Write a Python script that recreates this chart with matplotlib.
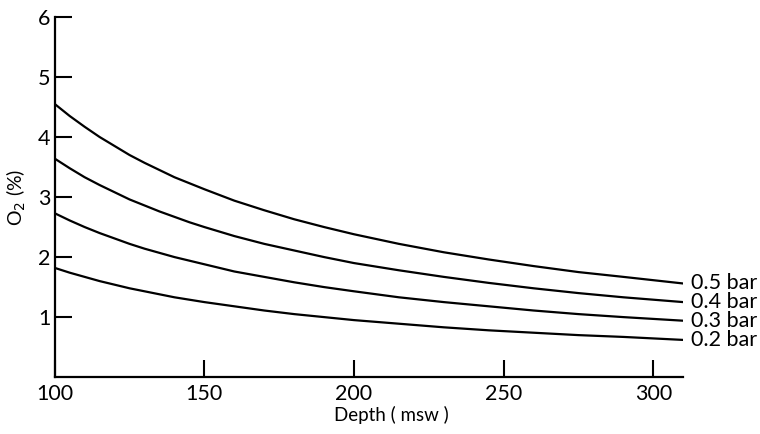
import matplotlib.pyplot as plt

# depth (msw) and O2 fraction (%)
depth = [100, 105, 110, 115, 120, 125, 130, 135, 140, 145, 150, 160, 170, 180,
         190, 200, 215, 230, 245, 260, 275, 290, 310]
o2_05 = [4.55, 4.35, 4.17, 4.00, 3.85, 3.70, 3.57, 3.45, 3.33, 3.23, 3.13, 2.94,
         2.78, 2.63, 2.50, 2.38, 2.22, 2.08, 1.96, 1.85, 1.75, 1.67, 1.56]
o2_04 = [3.64, 3.48, 3.33, 3.20, 3.08, 2.96, 2.86, 2.76, 2.67, 2.58, 2.50, 2.35,
         2.22, 2.11, 2.00, 1.90, 1.78, 1.67, 1.57, 1.48, 1.40, 1.33, 1.25]
o2_03 = [2.73, 2.61, 2.50, 2.40, 2.31, 2.22, 2.14, 2.07, 2.00, 1.94, 1.88, 1.76,
         1.67, 1.58, 1.50, 1.43, 1.33, 1.25, 1.18, 1.11, 1.05, 1.00, 0.94]
o2_02 = [1.82, 1.74, 1.67, 1.60, 1.54, 1.48, 1.43, 1.38, 1.33, 1.29, 1.25, 1.18,
         1.11, 1.05, 1.00, 0.95, 0.89, 0.83, 0.78, 0.74, 0.70, 0.67, 0.62]
curves = [o2_05, o2_04, o2_03, o2_02]
labels = ['0.5 bar', '0.4 bar', '0.3 bar', '0.2 bar']

plt.rcParams['font.family'] = ['Lato', 'DejaVu Sans']

fig = plt.figure(figsize=(7.6, 4.34), dpi=100)
ax = fig.add_axes([0.072, 0.131, 0.827, 0.83])

for ys, lab in zip(curves, labels):
    ax.plot(depth, ys, color='black', lw=1.6, solid_joinstyle='round')
    ax.text(depth[-1] + 2.5, ys[-1], lab, fontsize=15.5, va='center', ha='left')

ax.set_xlim(100, 310)
ax.set_ylim(0, 6)
ax.set_xticks([100, 150, 200, 250, 300])
ax.set_yticks([1, 2, 3, 4, 5, 6])
ax.spines['top'].set_visible(False)
ax.spines['right'].set_visible(False)
for s in ['left', 'bottom']:
    ax.spines[s].set_linewidth(1.6)
ax.tick_params(direction='in', length=12, width=1.5, labelsize=15.5, pad=5)
ax.tick_params(axis='y', pad=3)
ax.set_xlabel('Depth ( msw )', fontsize=13.5, labelpad=1)
ax.xaxis.label.set_x(0.535)
ax.set_ylabel('O$_2$ (%)', fontsize=14, labelpad=7)

fig.savefig('out.png', dpi=100)
